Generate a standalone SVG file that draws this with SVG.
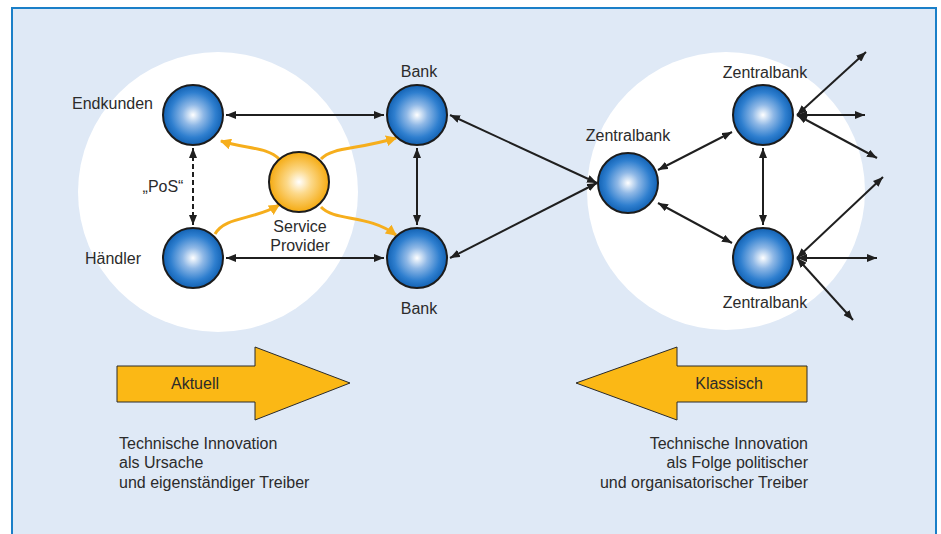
<svg xmlns="http://www.w3.org/2000/svg" width="941" height="534" viewBox="0 0 941 534">
<style>
text{font-family:"Liberation Sans",Arial,sans-serif;font-size:16px;fill:#2b2b2b}
.mid{text-anchor:middle}
.end{text-anchor:end}
.node{stroke:#1c1c1c;stroke-width:2}
.blue{fill:url(#gb)}
.orng{fill:url(#go)}
.con{fill:none;stroke:#1f1f1f;stroke-width:2;marker-start:url(#ah);marker-end:url(#ah)}
.dash{stroke-dasharray:5 3}
.oc{fill:none;stroke:#f6ae1c;stroke-width:3;marker-end:url(#ao)}
.big{fill:#fbb815;stroke:#2a2a2a;stroke-width:1}
</style>
<defs>
<radialGradient id="gb" cx="0.5" cy="0.5" r="0.5">
<stop offset="0" stop-color="#ffffff"/>
<stop offset="0.35" stop-color="#8fb8e6"/>
<stop offset="0.75" stop-color="#2f7fcf"/>
<stop offset="1" stop-color="#1262b4"/>
</radialGradient>
<radialGradient id="go" cx="0.5" cy="0.5" r="0.5">
<stop offset="0" stop-color="#ffffff"/>
<stop offset="0.4" stop-color="#fcd98a"/>
<stop offset="1" stop-color="#f5aa10"/>
</radialGradient>
<marker id="ah" viewBox="0 0 10 8" refX="10" refY="4" markerWidth="10" markerHeight="8" markerUnits="userSpaceOnUse" orient="auto-start-reverse">
<path d="M0,0 L10,4 L0,8 z" fill="#1f1f1f"/>
</marker>
<marker id="ao" viewBox="0 0 10 10" refX="9" refY="5" markerWidth="11" markerHeight="11" markerUnits="userSpaceOnUse" orient="auto">
<path d="M0,0 L10,5 L0,10 z" fill="#f6ae1c"/>
</marker>
</defs>
<rect x="0" y="0" width="941" height="534" fill="#ffffff"/>
<rect x="12" y="8" width="924" height="540" fill="#dfe9f6" stroke="#1a7fc8" stroke-width="2"/>
<g id="zones">
<circle cx="218" cy="192" r="140" fill="#ffffff"/>
<circle cx="726" cy="191" r="139" fill="#ffffff"/>
</g>
<g id="connectors">
<line class="con" x1="226" y1="115" x2="384" y2="115"/>
<line class="con" x1="226" y1="258" x2="384" y2="258"/>
<line class="con dash" x1="193" y1="148" x2="193" y2="225"/>
<line class="con" x1="417" y1="148" x2="417" y2="225"/>
<line class="con" x1="450" y1="115" x2="597" y2="183"/>
<line class="con" x1="450" y1="258" x2="597" y2="183"/>
<line class="con" x1="658" y1="170" x2="732" y2="132"/>
<line class="con" x1="658" y1="203" x2="732" y2="243"/>
<line class="con" x1="763" y1="148" x2="763" y2="225"/>
<line class="con" x1="797" y1="115" x2="866" y2="52"/>
<line class="con" x1="797" y1="115" x2="865" y2="115"/>
<line class="con" x1="797" y1="115" x2="877" y2="158"/>
<line class="con" x1="797" y1="258" x2="883" y2="177"/>
<line class="con" x1="797" y1="258" x2="877" y2="258"/>
<line class="con" x1="797" y1="258" x2="853" y2="320"/>
<path class="oc" d="M279 159 C268 147 246 149 221 141"/>
<path class="oc" d="M321 159 C332 147 356 150 396 138"/>
<path class="oc" d="M215 234 C225 216 255 220 279 205"/>
<path class="oc" d="M321 207 C335 222 368 214 396 235"/>
</g>
<g id="endkunden">
<circle class="node blue" cx="193" cy="115" r="30"/>
<text class="end" x="153" y="109">Endkunden</text>
</g>
<g id="haendler">
<circle class="node blue" cx="193" cy="258" r="30"/>
<text class="end" x="141" y="264">Händler</text>
</g>
<text class="mid" x="163" y="192">„PoS“</text>
<g id="bank-top">
<circle class="node blue" cx="417" cy="115" r="30"/>
<text class="mid" x="419" y="77">Bank</text>
</g>
<g id="bank-bottom">
<circle class="node blue" cx="417" cy="258" r="30"/>
<text class="mid" x="419" y="314">Bank</text>
</g>
<g id="service-provider">
<circle class="node orng" cx="299" cy="182" r="30"/>
<text class="mid" x="300" y="232">Service</text>
<text class="mid" x="300" y="251">Provider</text>
</g>
<g id="zb-left">
<circle class="node blue" cx="628" cy="183" r="30"/>
<text class="mid" x="628" y="141">Zentralbank</text>
</g>
<g id="zb-top">
<circle class="node blue" cx="763" cy="115" r="30"/>
<text class="mid" x="765" y="78">Zentralbank</text>
</g>
<g id="zb-bottom">
<circle class="node blue" cx="763" cy="258" r="30"/>
<text class="mid" x="765" y="308">Zentralbank</text>
</g>
<g id="aktuell">
<path class="big" d="M117 366 H255 V347 L350 383 L255 420 V402 H117 Z"/>
<text class="mid" x="195" y="389">Aktuell</text>
</g>
<g id="klassisch">
<path class="big" d="M807 366 H677 V347 L576 383 L677 420 V402 H807 Z"/>
<text class="mid" x="729" y="389">Klassisch</text>
</g>
<g id="notes">
<text x="119" y="449">Technische Innovation</text>
<text x="119" y="468">als Ursache</text>
<text x="119" y="488">und eigenständiger Treiber</text>
<text class="end" x="808" y="449">Technische Innovation</text>
<text class="end" x="808" y="468">als Folge politischer</text>
<text class="end" x="808" y="488">und organisatorischer Treiber</text>
</g>
</svg>
